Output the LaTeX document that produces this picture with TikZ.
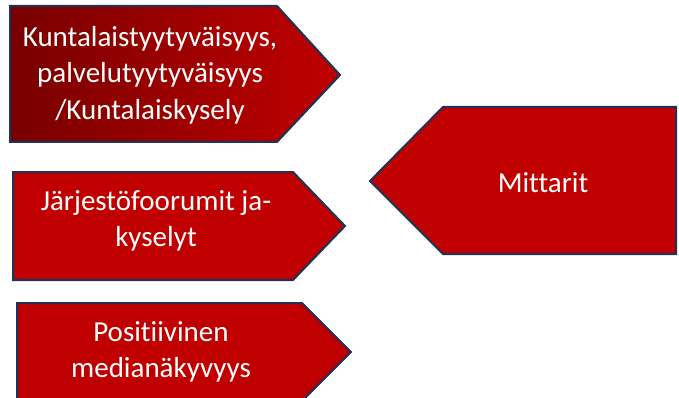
\documentclass[tikz,border=0pt]{standalone}
\usepackage{fontspec}
\setmainfont{Carlito}[Ligatures = {NoCommon, NoRare}]
\usetikzlibrary{positioning}
\definecolor{boxred}{HTML}{C00000}
\definecolor{deepred}{HTML}{780000}
\definecolor{boxedge}{HTML}{1F3356}
\tikzset{arrowbox/.style = {draw = boxedge, line width = 2, fill = boxred, line join = miter}}
\tikzset{boxtext/.style = {text = white, align = center, inner sep = 0,
                           font = \fontsize{29}{36.5}\selectfont}}

\begin{document}
\begin{tikzpicture}[x = 1pt, y = -1pt]
    \clip (0, 0) rectangle (679, 398);
    \draw [arrowbox, left color = deepred, right color = boxred]
      (10, 6) -- (277, 6) -- (340, 75) -- (277, 142) -- (10, 142) -- cycle;
    \draw [arrowbox] (13, 172) -- (293, 172) -- (345, 226) -- (293, 280) -- (13, 280) -- cycle;
    \draw [arrowbox] (17, 303) -- (302, 303) -- (351, 352) -- (302, 401) -- (17, 401) -- cycle;
    \draw [arrowbox] (370, 181) -- (443, 107) -- (676, 107) -- (676, 254) -- (443, 254) -- cycle;
    \node [boxtext] (survey) at (150, 75) {Kuntalaistyytyväisyys,\\palvelutyytyväisyys\\/Kuntalaiskysely};
    \node [boxtext] (forums) at (156, 221) {Järjestöfoorumit ja-\\kyselyt};
    \node [boxtext] (media) at (161, 352) {Positiivinen\\medianäkyvyys};
    \node [boxtext] (metrics) at (543, 183) {Mittarit};
  \end{tikzpicture}
\end{document}
